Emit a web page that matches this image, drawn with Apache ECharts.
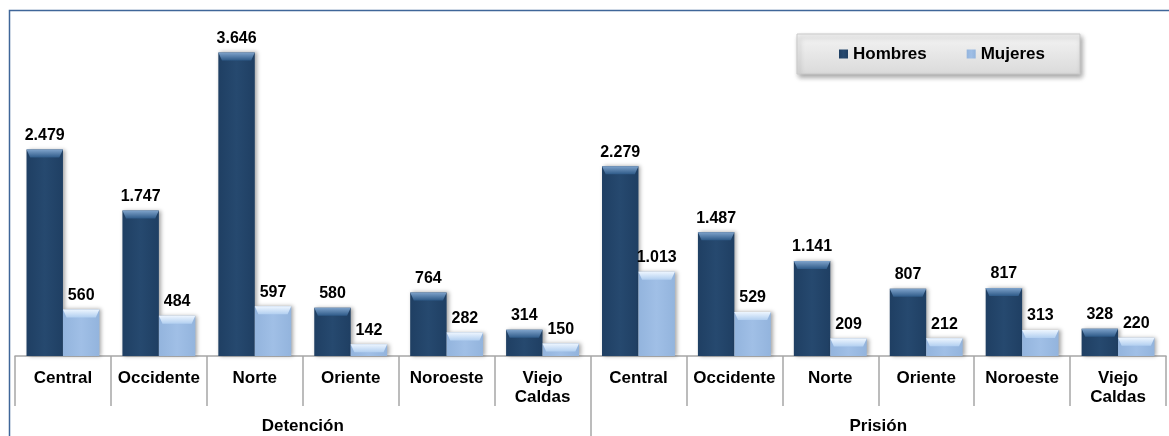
<!DOCTYPE html>
<html>
<head>
<meta charset="utf-8">
<script src="https://cdn.jsdelivr.net/npm/echarts@6/dist/echarts.min.js"></script>
<style>
  html, body { margin: 0; padding: 0; background: #fff; }
  #chart { width: 1169px; height: 436px; }
</style>
</head>
<body>
<div id="chart"></div>
<script>
// regiones por tipo de medida
const regiones = ['Central', 'Occidente', 'Norte', 'Oriente', 'Noroeste', 'Viejo\nCaldas',
                  'Central', 'Occidente', 'Norte', 'Oriente', 'Noroeste', 'Viejo\nCaldas'];
// group axis: blanks sit on the edges / middle divider
const grupos = ['', 'Detención', '', 'Prisión', ''];

const hombres = [2479, 1747, 3646, 580, 764, 314, 2279, 1487, 1141, 807, 817, 328];
const mujeres = [560, 484, 597, 142, 282, 150, 1013, 529, 209, 212, 313, 220];

const FONT = '"Liberation Sans", Arial, sans-serif';
const AXIS_GRAY = '#A6A6A6';

const fmt = v => String(v).replace(/\B(?=(\d{3})+(?!\d))/g, '.');

const hGrad = (a, b) => new echarts.graphic.LinearGradient(0, 0, 1, 0, [
  { offset: 0, color: a }, { offset: 0.5, color: b }, { offset: 1, color: a },
]);
const vGrad = (a, b) => new echarts.graphic.LinearGradient(0, 0, 0, 1, [
  { offset: 0, color: a }, { offset: 1, color: b },
]);

const DARK = hGrad('#1F3F63', '#26496F');
const LIGHT = hGrad('#93B4DD', '#A0BFE6');

const barLabel = {
  show: true, position: 'top', distance: 6,
  color: '#000', fontFamily: FONT, fontWeight: 'bold', fontSize: 16,
  formatter: p => fmt(p.value),
};
const shadow = { shadowColor: 'rgba(0,0,0,0.35)', shadowBlur: 4, shadowOffsetX: 2 };

function bevel(name, data, top, bottom) {
  return {
    type: 'pictorialBar', name, data, silent: true, z: 3,
    barGap: '0%', barCategoryGap: '24%',
    symbol: 'path://M0,0 L20,0 L18,2 L2,2 Z',
    symbolSize: ['100%', 8], symbolPosition: 'end',
    itemStyle: { color: vGrad(top, bottom) },
  };
}

const chart = echarts.init(document.getElementById('chart'), null, { renderer: 'canvas' });

chart.setOption({
  animation: false,
  textStyle: { fontFamily: FONT },
  graphic: [{
    type: 'rect', z: -1, silent: true,
    shape: { x: 9.5, y: 10.5, width: 1200, height: 500 },
    style: { fill: 'none', stroke: '#3F6699', lineWidth: 1.5 },
  }],
  legend: {
    data: ['Hombres', 'Mujeres'],
    left: 797, top: 34,
    padding: [11, 35, 11, 42],
    itemGap: 40, itemWidth: 9, itemHeight: 9,
    icon: 'rect',
    backgroundColor: vGrad('#F4F4F4', '#DADADA'),
    borderColor: '#C9C9C9', borderWidth: 1,
    shadowColor: 'rgba(0,0,0,0.35)', shadowBlur: 5, shadowOffsetX: 2, shadowOffsetY: 3,
    textStyle: { color: '#000', fontFamily: FONT, fontWeight: 'bold', fontSize: 17, lineHeight: 18 },
  },
  grid: { left: 15, right: 2, top: 23, bottom: 78 },
  xAxis: [{
    type: 'category', data: regiones,
    axisLine: { lineStyle: { color: AXIS_GRAY, width: 1.5 } },
    axisTick: { show: true, length: 50, lineStyle: { color: AXIS_GRAY, width: 1.5 } },
    axisLabel: {
      interval: 0, margin: 13, color: '#000', fontFamily: FONT,
      fontWeight: 'bold', fontSize: 17, lineHeight: 19,
    },
  }, {
    type: 'category', data: grupos, boundaryGap: false, position: 'bottom',
    axisLine: { show: false },
    axisTick: { show: true, length: 80, interval: i => i === 2, lineStyle: { color: AXIS_GRAY, width: 1.5 } },
    axisLabel: {
      interval: 0, margin: 61, color: '#000', fontFamily: FONT,
      fontWeight: 'bold', fontSize: 17, lineHeight: 19,
    },
  }],
  yAxis: { type: 'value', min: 0, max: 4000, show: false },
  series: [
    {
      type: 'bar', name: 'Hombres', data: hombres,
      barGap: '0%', barCategoryGap: '24%',
      itemStyle: Object.assign({ color: DARK }, shadow),
      label: barLabel,
    },
    {
      type: 'bar', name: 'Mujeres', data: mujeres,
      barGap: '0%', barCategoryGap: '24%',
      itemStyle: Object.assign({ color: LIGHT }, shadow),
      label: barLabel,
    },
    bevel('bevelH', hombres, '#7FA3CB', '#2E5A88'),
    bevel('bevelM', mujeres, '#EEF6FF', '#B2CFF0'),
  ],
});

window.addEventListener('resize', () => chart.resize());
</script>
</body>
</html>
